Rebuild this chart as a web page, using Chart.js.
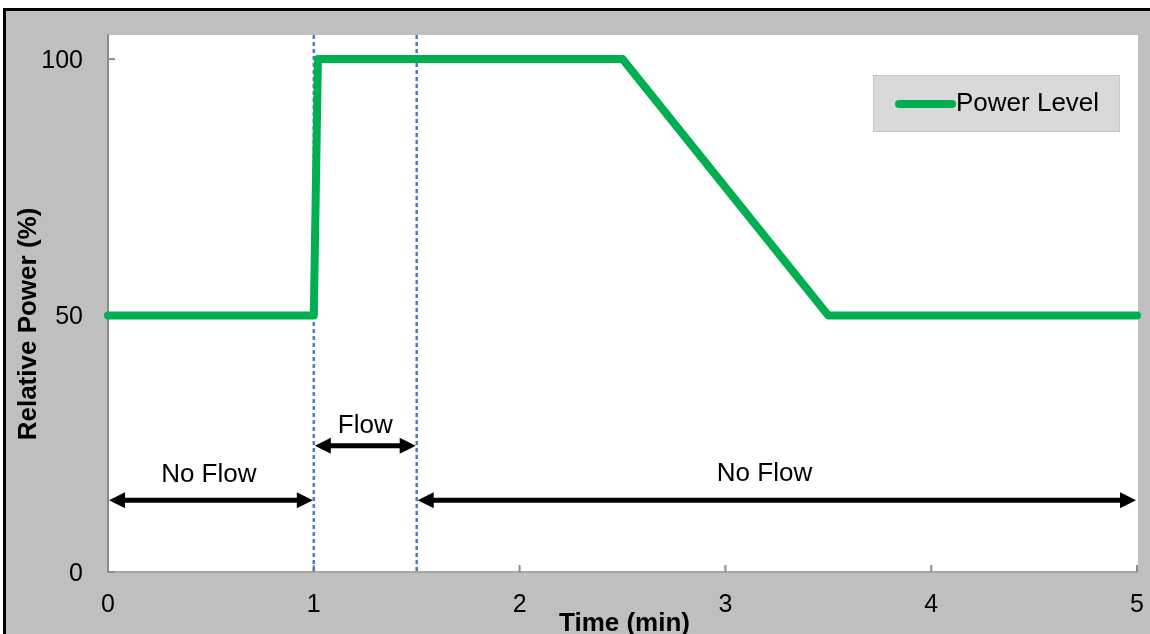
<!DOCTYPE html>
<html>
<head>
<meta charset="utf-8">
<script src="https://cdn.jsdelivr.net/npm/chart.js@4/dist/chart.umd.min.js"></script>
<style>
  body { margin: 0; background: #fff; }
  #wrap { width: 1150px; height: 634px; }
</style>
</head>
<body>
<div id="wrap"><canvas id="powerChart" width="1150" height="634"></canvas></div>
<script>
// power profile
const timeMin = [0, 1, 1.02, 2.5, 3.5, 5];
const powerPct = [50, 50, 100, 100, 50, 50];
const yTicks = [0, 50, 100];
const xTicks = [0, 1, 2, 3, 4, 5];

// flow window markers (dashed)
const flowMarkers = [1, 1.5];

// double arrows and their labels
const arrowStart = [0, 1, 1.5];
const arrowEnd = [1, 1.5, 5];
const arrowLevel = [14, 24.6, 14];
const arrowText = ['No Flow', 'Flow', 'No Flow'];
const textX = [0.49, 1.25, 3.19];
const textLevel = [18.9, 28.5, 19.1];

const FONT = '"Liberation Sans", Arial, sans-serif';

function arrowHead(ctx, x, y, dir) {
    ctx.beginPath();
    ctx.moveTo(x, y);
    ctx.lineTo(x - dir * 16, y - 8);
    ctx.lineTo(x - dir * 16, y + 8);
    ctx.closePath();
    ctx.fill();
}

// no extra label padding, the layout padding places the plot
function noPad(s) {
    s.paddingTop = 0; s.paddingBottom = 0; s.paddingLeft = 0; s.paddingRight = 0;
}

const decor = {
    id: 'decor',
    beforeDraw(chart) {
        const ctx = chart.ctx, a = chart.chartArea;
        ctx.save();
        ctx.fillStyle = '#ffffff';
        ctx.fillRect(0, 0, chart.width, chart.height);
        ctx.fillStyle = '#bfbfbf';
        ctx.fillRect(6, 11, chart.width - 6, chart.height - 11);
        ctx.fillStyle = '#000';
        ctx.fillRect(3, 8, chart.width - 3, 3);
        ctx.fillRect(3, 8, 3, chart.height - 8);
        ctx.fillStyle = '#ffffff';
        ctx.fillRect(a.left, a.top, a.right - a.left + 1, a.bottom - a.top);
        ctx.restore();
    },
    beforeDatasetsDraw(chart) {
        const ctx = chart.ctx, a = chart.chartArea, x = chart.scales.x, y = chart.scales.y;
        ctx.save();
        // inner tick marks
        ctx.strokeStyle = '#8c8c8c';
        ctx.lineWidth = 2;
        yTicks.forEach(v => {
            const py = y.getPixelForValue(v);
            ctx.beginPath(); ctx.moveTo(a.left, py); ctx.lineTo(a.left + 7, py); ctx.stroke();
        });
        xTicks.forEach(v => {
            const px = x.getPixelForValue(v);
            ctx.beginPath(); ctx.moveTo(px, a.bottom); ctx.lineTo(px, a.bottom - 7); ctx.stroke();
        });
        // dashed flow markers
        ctx.strokeStyle = '#4a7ebb';
        ctx.lineWidth = 2.5;
        ctx.setLineDash([4, 3]);
        flowMarkers.forEach(v => {
            const px = x.getPixelForValue(v);
            ctx.beginPath(); ctx.moveTo(px, a.top); ctx.lineTo(px, a.bottom); ctx.stroke();
        });
        ctx.restore();
    },
    afterDatasetsDraw(chart) {
        const ctx = chart.ctx, x = chart.scales.x, y = chart.scales.y, a = chart.chartArea;
        ctx.save();
        ctx.strokeStyle = '#000';
        ctx.fillStyle = '#000';
        ctx.lineWidth = 5;
        arrowStart.forEach((s, i) => {
            const x0 = x.getPixelForValue(s) + 1, x1 = x.getPixelForValue(arrowEnd[i]) - 1;
            const py = y.getPixelForValue(arrowLevel[i]);
            ctx.beginPath(); ctx.moveTo(x0 + 10, py); ctx.lineTo(x1 - 10, py); ctx.stroke();
            arrowHead(ctx, x0, py, -1);
            arrowHead(ctx, x1, py, 1);
        });
        ctx.font = '26px ' + FONT;
        ctx.textAlign = 'center';
        ctx.textBaseline = 'middle';
        arrowText.forEach((t, i) => {
            ctx.fillText(t, x.getPixelForValue(textX[i]), y.getPixelForValue(textLevel[i]));
        });
        // legend
        ctx.fillStyle = '#d9d9d9';
        ctx.fillRect(873, 75, 247, 57);
        ctx.strokeStyle = '#c6c6c6';
        ctx.lineWidth = 1;
        ctx.strokeRect(873.5, 75.5, 246, 56);
        ctx.strokeStyle = '#00b050';
        ctx.lineWidth = 8;
        ctx.lineCap = 'round';
        ctx.beginPath(); ctx.moveTo(899, 104); ctx.lineTo(952, 104); ctx.stroke();
        ctx.fillStyle = '#000';
        ctx.textAlign = 'left';
        ctx.fillText(chart.data.datasets[0].label, 956, 104);
        // axis titles
        ctx.font = 'bold 26px ' + FONT;
        ctx.textAlign = 'center';
        ctx.fillText('Time (min)', (a.left + a.right) / 2 + 2, 624);
        ctx.translate(29, 324);
        ctx.rotate(-Math.PI / 2);
        ctx.fillText('Relative Power (%)', 0, 0);
        ctx.restore();
    }
};

new Chart(document.getElementById('powerChart'), {
    type: 'line',
    data: {
        datasets: [{
            label: 'Power Level',
            data: timeMin.map((t, i) => ({ x: t, y: powerPct[i] })),
            borderColor: '#00b050',
            borderWidth: 8,
            borderCapStyle: 'round',
            borderJoinStyle: 'round',
            pointRadius: 0,
            tension: 0,
            fill: false,
            clip: false
        }]
    },
    options: {
        responsive: false,
        animation: false,
        layout: { padding: { left: 0, top: 35, right: 13, bottom: 0 } },
        plugins: { legend: { display: false }, tooltip: { enabled: false } },
        scales: {
            x: {
                type: 'linear',
                min: 0,
                max: 5,
                afterFit: s => { s.height = 62; noPad(s); },
                afterBuildTicks: s => { s.ticks = xTicks.map(v => ({ value: v })); },
                grid: { display: false, drawTicks: false },
                border: { display: true, color: '#a6a6a6', width: 2 },
                ticks: { color: '#000', font: { family: FONT, size: 25 }, padding: 18, maxRotation: 0 }
            },
            y: {
                min: 0,
                max: 104.7,
                afterFit: s => { s.width = 108; noPad(s); },
                afterBuildTicks: s => { s.ticks = yTicks.map(v => ({ value: v })); },
                grid: { display: false, drawTicks: false },
                border: { display: true, color: '#8c8c8c', width: 2 },
                ticks: { color: '#000', font: { family: FONT, size: 25 }, padding: 25, labelOffset: 2 }
            }
        }
    },
    plugins: [decor]
});
</script>
</body>
</html>
